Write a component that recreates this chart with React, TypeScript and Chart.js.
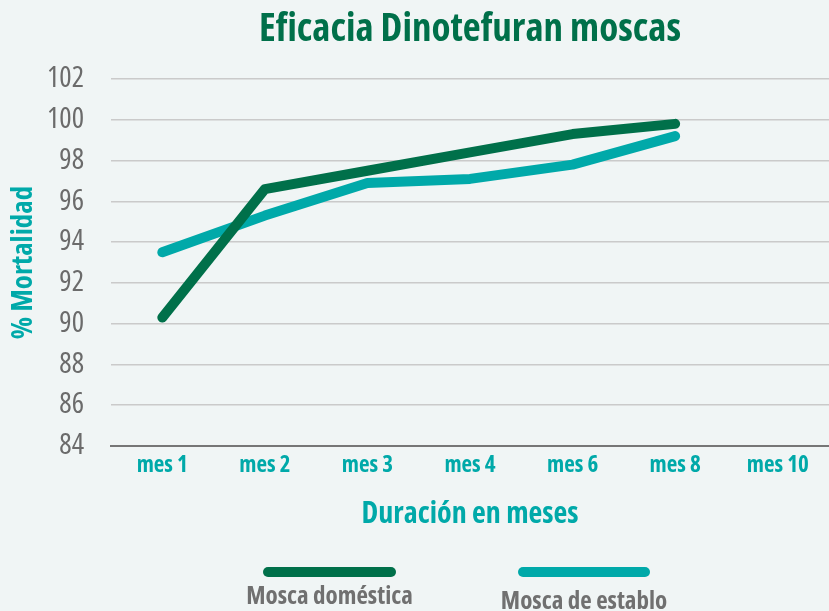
import React, { useEffect, useRef } from "react";
import { Chart, registerables } from "chart.js";

Chart.register(...registerables);

const categories = ["mes 1", "mes 2", "mes 3", "mes 4", "mes 6", "mes 8", "mes 10"];
const moscaDomestica = [90.3, 96.6, 97.5, 98.4, 99.3, 99.8, null];
const moscaEstablo = [93.5, 95.3, 96.9, 97.1, 97.8, 99.2, null];
const seriesNames = ["Mosca doméstica", "Mosca de establo"];
const yMin = 84;
const yMax = 102;
const yStep = 2;

const GREEN = "#00704a";
const TEAL = "#00a9a9";
const BG = "#f0f5f5";
const FONT = "'Open Sans', sans-serif";
const BOLD = "bold condensed";
const REG = "normal condensed";

const bgPlugin = {
  id: "bgFill",
  beforeDraw(chart: any) {
    const { ctx, width, height } = chart;
    ctx.save();
    ctx.fillStyle = BG;
    ctx.fillRect(0, 0, width, height);
    ctx.restore();
  },
};

const legendPlugin = {
  id: "customLegend",
  afterDraw(chart: any) {
    const { ctx } = chart;
    const ds = chart.data.datasets;
    const items = [
      { x1: 268, x2: 391, ly: 572, ty: 597, color: ds[0].borderColor, text: ds[0].label },
      { x1: 523, x2: 645, ly: 572, ty: 602, color: ds[1].borderColor, text: ds[1].label },
    ];
    ctx.save();
    for (const it of items) {
      ctx.strokeStyle = it.color;
      ctx.lineWidth = 10;
      ctx.lineCap = "round";
      ctx.beginPath();
      ctx.moveTo(it.x1, it.ly);
      ctx.lineTo(it.x2, it.ly);
      ctx.stroke();
      ctx.fillStyle = "#707070";
      ctx.font = `${BOLD} 25px ${FONT}`;
      ctx.textAlign = "center";
      ctx.textBaseline = "middle";
      ctx.fillText(it.text, (it.x1 + it.x2) / 2, it.ty);
    }
    ctx.restore();
  },
};

export default function App() {
  const ref = useRef<HTMLCanvasElement | null>(null);

  useEffect(() => {
    document.body.style.margin = "0";
    document.body.style.background = BG;
    if (!ref.current) return;
    const chart = new Chart(ref.current, {
      type: "line",
      data: {
        labels: categories,
        datasets: [
          {
            label: seriesNames[0],
            data: moscaDomestica,
            borderColor: GREEN,
            backgroundColor: GREEN,
            borderWidth: 10,
            borderCapStyle: "round",
            borderJoinStyle: "round",
            pointRadius: 0,
            tension: 0,
          },
          {
            label: seriesNames[1],
            data: moscaEstablo,
            borderColor: TEAL,
            backgroundColor: TEAL,
            borderWidth: 10,
            borderCapStyle: "round",
            borderJoinStyle: "round",
            pointRadius: 0,
            tension: 0,
          },
        ],
      },
      options: {
        animation: false,
        responsive: false,
        devicePixelRatio: 1,
        layout: { padding: { left: 0, right: 0, top: 0, bottom: 70 } },
        plugins: {
          legend: { display: false },
          tooltip: { enabled: false },
          title: {
            display: true,
            text: "Eficacia Dinotefuran moscas",
            color: GREEN,
            fullSize: false,
            font: { family: FONT, size: 39, weight: BOLD, lineHeight: 1.2 },
            padding: { top: 6, bottom: 26.2 },
          },
        },
        scales: {
          x: {
            offset: true,
            grid: { display: false, drawTicks: false },
            border: { display: true, color: "#767676", width: 2 },
            ticks: {
              color: TEAL,
              padding: 6,
              font: { family: FONT, size: 23, weight: BOLD },
              maxRotation: 0,
              autoSkip: false,
            },
            title: {
              display: true,
              text: "Duración en meses",
              color: TEAL,
              font: { family: FONT, size: 30, weight: BOLD, lineHeight: 1.2 },
              padding: { top: 0, bottom: 9 },
            },
            afterFit(scale: any) {
              scale.height = 95;
            },
          },
          y: {
            min: yMin,
            max: yMax,
            grid: { color: "#cacaca", lineWidth: 1.5, drawTicks: false },
            border: { display: false },
            ticks: {
              stepSize: yStep,
              color: "#6b6b6b",
              padding: 27,
              font: { family: FONT, size: 29, weight: REG },
            },
            title: {
              display: true,
              text: "% Mortalidad",
              color: TEAL,
              font: { family: FONT, size: 29, weight: BOLD, lineHeight: 1.2 },
              padding: { top: 6, bottom: 0 },
            },
            afterFit(scale: any) {
              scale.width = 111;
            },
          },
        },
      },
      plugins: [bgPlugin, legendPlugin],
    } as any);
    return () => chart.destroy();
  }, []);

  return (
    <div style={{ width: 829, height: 611 }}>
      <canvas ref={ref} width={829} height={611} style={{ display: "block", width: 829, height: 611 }} />
    </div>
  );
}
